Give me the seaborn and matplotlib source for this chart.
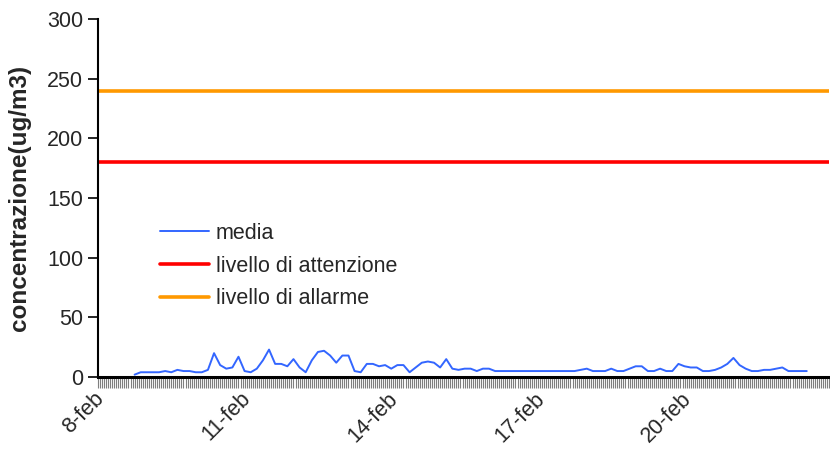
import pandas as pd
import matplotlib
matplotlib.use("Agg")
import matplotlib.pyplot as plt
import matplotlib.dates as mdates
import matplotlib.transforms as mtransforms
from matplotlib.ticker import FixedLocator, FixedFormatter
import seaborn as sns

# 3-hourly readings of the "media" series, starting 8-feb 18:00
start_time = "2008-02-08 18:00"
media_values = [
    2, 4, 4, 4, 4, 5, 4, 6, 5, 5, 4, 4, 6, 20, 10, 7, 8, 17, 5, 4,
    7, 14, 23, 11, 11, 9, 15, 8, 4, 14, 21, 22, 18, 12, 18, 18, 5, 4, 11, 11,
    9, 10, 7, 10, 10, 4, 8, 12, 13, 12, 8, 15, 7, 6, 7, 7, 5, 7, 7, 5,
    5, 5, 5, 5, 5, 5, 5, 5, 5, 5, 5, 5, 5, 6, 7, 5,
    5, 5, 7, 5, 5, 7, 9, 9, 5, 5, 7, 5, 5, 11, 9, 8, 8, 5, 5, 6,
    8, 11, 16, 10, 7, 5, 5, 6, 6, 7, 8, 5, 5, 5, 5,
]
livello_attenzione = 180
livello_allarme = 240

tick_days = ["2008-02-08", "2008-02-11", "2008-02-14", "2008-02-17", "2008-02-20"]
tick_labels = ["8-feb", "11-feb", "14-feb", "17-feb", "20-feb"]
x_start, x_end = "2008-02-08 00:00", "2008-02-22 23:00"

df = pd.DataFrame({
    "ora": pd.date_range(start_time, periods=len(media_values), freq="3h"),
    "media": media_values,
})

sns.set_style("ticks")
plt.rcParams["font.family"] = ["Liberation Sans", "DejaVu Sans"]

fig = plt.figure(figsize=(8.3, 4.59), dpi=100)
ax = fig.add_axes([0.118, 0.1786, 0.881, 0.78])

sns.lineplot(data=df, x="ora", y="media", ax=ax, color="#3366FF",
             linewidth=1.4, label="media")
ax.axhline(livello_attenzione, color="#FF0000", linewidth=2.6,
           label="livello di attenzione")
ax.axhline(livello_allarme, color="#FF9900", linewidth=2.6,
           label="livello di allarme")

ax.set_xlim(pd.Timestamp(x_start), pd.Timestamp(x_end))
ax.set_ylim(0, 300)
ax.set_yticks(range(0, 301, 50))

tick_pos = [mdates.date2num(pd.Timestamp(d)) for d in tick_days]
ax.xaxis.set_major_locator(FixedLocator(tick_pos))
ax.xaxis.set_major_formatter(FixedFormatter(tick_labels))
ax.xaxis.set_minor_locator(mdates.HourLocator())
ax.tick_params(axis="x", which="both", length=8, width=0.8, color="#7f7f7f",
               direction="out")
ax.tick_params(axis="y", length=7, width=1.2, color="black", labelsize=15.5)
ax.tick_params(axis="x", labelsize=15.5, pad=4)
shift = mtransforms.ScaledTranslation(-3 / 72, 4 / 72, fig.dpi_scale_trans)
for lbl in ax.get_xticklabels():
    lbl.set_rotation(45)
    lbl.set_ha("right")
    lbl.set_va("top")
    lbl.set_rotation_mode("anchor")
    lbl.set_transform(lbl.get_transform() + shift)

ax.set_xlabel("")
ax.set_ylabel("concentrazione(ug/m3)", fontsize=17.5, fontweight="bold")
ax.yaxis.set_label_coords(-0.092, 0.5)

sns.despine(ax=ax)
ax.spines["left"].set_linewidth(1.5)
ax.spines["bottom"].set_linewidth(2.2)
ax.spines["left"].set_color("black")
ax.spines["bottom"].set_color("black")

ax.legend(loc="upper left", bbox_to_anchor=(0.058, 0.485), frameon=False,
          fontsize=15.5, handlelength=2.3, labelspacing=0.55,
          handletextpad=0.3)

fig.savefig("out.png", dpi=100)
